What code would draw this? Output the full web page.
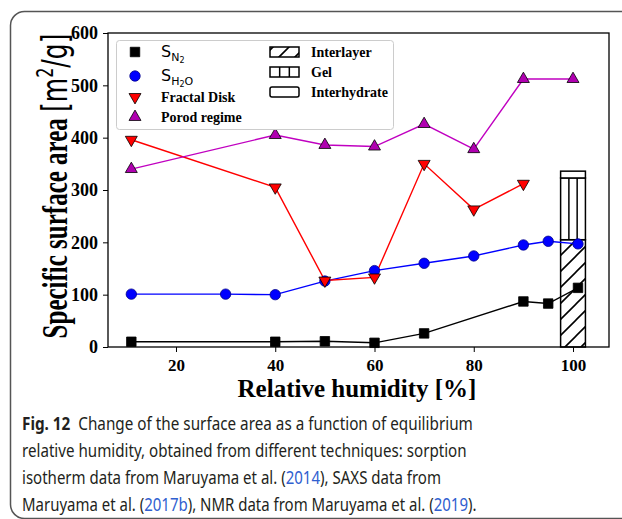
<!DOCTYPE html>
<html>
<head>
<meta charset="utf-8">
<script src="https://cdn.jsdelivr.net/npm/d3@7"></script>
<style>
  body { margin: 0; background: #fff; }
  svg { display: block; }
</style>
</head>
<body>
<div id="chart"></div>
<script>
const xTicks = [20, 40, 60, 80, 100]
const yTicks = [0, 100, 200, 300, 400, 500, 600]

// sorption isotherm (N2, H2O)
const sN2X = [11, 40, 50, 60, 70, 90, 95, 101]
const sN2Y = [10, 10, 11, 8, 26, 87, 83, 113]
const sH2OX = [11, 30, 40, 50, 60, 70, 80, 90, 95, 101]
const sH2OY = [101, 101, 100, 126, 146, 160, 174, 195, 202, 197]

// SAXS
const fractalX = [11, 40, 50, 60, 70, 80, 90]
const fractalY = [396, 305, 127, 133, 350, 263, 312]
const porodX = [11, 40, 50, 60, 70, 80, 90, 100]
const porodY = [340, 405, 386, 383, 426, 378, 512, 512]

// NMR stacked bar
const barX = 100
const barWidth = 5
const barParts = ['Interlayer', 'Gel', 'Interhydrate']
const barValues = [205, 118, 13]

const width = 622
const height = 519
const margin = { top: 33, left: 108, right: 13, bottom: 172 }
const serif = '"Liberation Serif", "Times New Roman", serif'
const sans = '"DejaVu Sans", sans-serif'

const svg = d3
  .select('#chart')
  .append('svg')
  .attr('width', width)
  .attr('height', height)

// outer rounded frame
svg
  .append('rect')
  .attr('x', 10.5)
  .attr('y', 11.5)
  .attr('width', 640)
  .attr('height', 507)
  .attr('rx', 14)
  .attr('fill', 'none')
  .attr('stroke', '#555')
  .attr('stroke-width', 1.5)

const xScale = d3
  .scaleLinear()
  .domain([6.3, 107.25])
  .range([margin.left, width - margin.right])

const yScale = d3
  .scaleLinear()
  .domain([0, 600])
  .range([height - margin.bottom, margin.top])

const defs = svg.append('defs')
const hatch = defs
  .append('pattern')
  .attr('id', 'hatch')
  .attr('patternUnits', 'userSpaceOnUse')
  .attr('width', 16)
  .attr('height', 16)
hatch
  .append('path')
  .attr('d', 'M-4,4 L4,-4 M0,16 L16,0 M12,20 L20,12')
  .attr('stroke', '#000')
  .attr('stroke-width', 1.6)

// axes
const xAxis = d3
  .axisBottom(xScale)
  .tickValues(xTicks)
  .tickSize(5)
  .tickSizeOuter(0)
const yAxis = d3
  .axisLeft(yScale)
  .tickValues(yTicks)
  .tickSize(5)
  .tickSizeOuter(0)

const gx = svg
  .append('g')
  .attr('transform', `translate(0,${yScale(0)})`)
  .call(xAxis)
gx.select('.domain').remove()
gx.selectAll('text')
  .attr('font-family', serif)
  .attr('font-weight', 'bold')
  .attr('font-size', 17)
  .attr('fill', '#000')
  .attr('dy', '0.95em')

const gy = svg
  .append('g')
  .attr('transform', `translate(${xScale.range()[0]},0)`)
  .call(yAxis)
gy.select('.domain').remove()
gy.selectAll('text')
  .attr('font-family', serif)
  .attr('font-weight', 'bold')
  .attr('font-size', 18)
  .attr('fill', '#000')
  .attr('x', -10)

// stacked bar
let base = 0
const barData = barValues.map((v, i) => {
  const d = { part: barParts[i], y0: base, y1: base + v }
  base += v
  return d
})
const barFill = { Interlayer: 'url(#hatch)', Gel: '#fff', Interhydrate: '#fff' }
const bars = svg.append('g')
bars
  .selectAll('rect')
  .data(barData)
  .enter()
  .append('rect')
  .attr('x', xScale(barX - barWidth / 2))
  .attr('width', xScale(barX + barWidth / 2) - xScale(barX - barWidth / 2))
  .attr('y', d => yScale(d.y1))
  .attr('height', d => yScale(d.y0) - yScale(d.y1))
  .attr('fill', d => barFill[d.part])
  .attr('stroke', '#000')
  .attr('stroke-width', 1.5)
const gel = barData[1]
bars
  .selectAll('.gel-line')
  .data([1 / 3, 2 / 3])
  .enter()
  .append('line')
  .attr('x1', f => xScale(barX - barWidth / 2 + barWidth * f))
  .attr('x2', f => xScale(barX - barWidth / 2 + barWidth * f))
  .attr('y1', yScale(gel.y0))
  .attr('y2', yScale(gel.y1))
  .attr('stroke', '#000')
  .attr('stroke-width', 1.5)

// series
const series = [
  { name: 'SN2', xs: sN2X, ys: sN2Y, color: '#000', fill: '#000', symbol: d3.symbolSquare, size: 90, rot: 0 },
  { name: 'SH2O', xs: sH2OX, ys: sH2OY, color: '#0000ff', fill: '#0000ff', symbol: d3.symbolCircle, size: 85, rot: 0 },
  { name: 'Fractal Disk', xs: fractalX, ys: fractalY, color: '#ff0000', fill: '#ff0000', symbol: d3.symbolTriangle, size: 62, rot: 180 },
  { name: 'Porod regime', xs: porodX, ys: porodY, color: '#c000c0', fill: '#b000b0', symbol: d3.symbolTriangle, size: 62, rot: 0 }
]

const line = d3
  .line()
  .x(d => xScale(d[0]))
  .y(d => yScale(d[1]))

series.forEach(s => {
  const pts = s.xs.map((x, i) => [x, s.ys[i]])
  svg
    .append('path')
    .datum(pts)
    .attr('d', line)
    .attr('fill', 'none')
    .attr('stroke', s.color)
    .attr('stroke-width', 1.4)
})

series.forEach(s => {
  const pts = s.xs.map((x, i) => [x, s.ys[i]])
  svg
    .append('g')
    .selectAll('path')
    .data(pts)
    .enter()
    .append('path')
    .attr('d', d3.symbol(s.symbol, s.size))
    .attr('transform', d => `translate(${xScale(d[0])},${yScale(d[1])}) rotate(${s.rot})`)
    .attr('fill', s.fill)
    .attr('stroke', s.name === 'SH2O' ? '#00008b' : '#000')
    .attr('stroke-width', 0.8)
})

// plot frame
svg
  .append('rect')
  .attr('x', xScale.range()[0])
  .attr('y', yScale.range()[1])
  .attr('width', xScale.range()[1] - xScale.range()[0])
  .attr('height', yScale.range()[0] - yScale.range()[1])
  .attr('fill', 'none')
  .attr('stroke', '#000')
  .attr('stroke-width', 1.3)

// legend
const legend = svg.append('g')
legend
  .append('rect')
  .attr('x', 116.5)
  .attr('y', 40.5)
  .attr('width', 277)
  .attr('height', 89)
  .attr('rx', 3)
  .attr('fill', '#fff')
  .attr('stroke', '#ccc')
  .attr('stroke-width', 1)

const rowsY = [52, 76, 97, 117]
series.forEach((s, i) => {
  legend
    .append('path')
    .attr('d', d3.symbol(s.symbol, s.size))
    .attr('transform', `translate(135,${rowsY[i]}) rotate(${s.rot})`)
    .attr('fill', s.fill)
    .attr('stroke', s.name === 'SH2O' ? '#00008b' : '#000')
    .attr('stroke-width', 0.8)
})

function subLabel(y, sub, subsub, tail) {
  const t = legend
    .append('text')
    .attr('x', 161)
    .attr('y', y + 5)
    .attr('font-family', sans)
    .attr('font-size', 16)
    .attr('fill', '#000')
  t.append('tspan').text('S')
  t.append('tspan').attr('dy', 4).attr('font-size', 11).text(sub)
  t.append('tspan').attr('dy', 2).attr('font-size', 8).text(subsub)
  if (tail) t.append('tspan').attr('dy', -2).attr('font-size', 11).text(tail)
}
subLabel(rowsY[0], 'N', '2', null)
subLabel(rowsY[1], 'H', '2', 'O')
;['Fractal Disk', 'Porod regime'].forEach((name, i) => {
  legend
    .append('text')
    .attr('x', 161)
    .attr('y', rowsY[i + 2] + 5)
    .attr('font-family', serif)
    .attr('font-weight', 'bold')
    .attr('font-size', 14)
    .text(name)
})

const rowsY2 = [52, 72, 92]
barParts.forEach((name, i) => {
  legend
    .append('rect')
    .attr('x', 270)
    .attr('y', rowsY2[i] - 5)
    .attr('width', 29)
    .attr('height', 10)
    .attr('rx', name === 'Interhydrate' ? 2 : 0)
    .attr('fill', barFill[name])
    .attr('stroke', '#000')
    .attr('stroke-width', 1.5)
  if (name === 'Gel') {
    ;[1 / 3, 2 / 3].forEach(f => {
      legend
        .append('line')
        .attr('x1', 270 + 29 * f)
        .attr('x2', 270 + 29 * f)
        .attr('y1', rowsY2[i] - 5)
        .attr('y2', rowsY2[i] + 5)
        .attr('stroke', '#000')
        .attr('stroke-width', 1.5)
    })
  }
  legend
    .append('text')
    .attr('x', 311)
    .attr('y', rowsY2[i] + 5)
    .attr('font-family', serif)
    .attr('font-weight', 'bold')
    .attr('font-size', 14)
    .text(name)
})

// axis titles
svg
  .append('text')
  .attr('x', 357)
  .attr('y', 397)
  .attr('text-anchor', 'middle')
  .attr('font-family', serif)
  .attr('font-weight', 'bold')
  .attr('font-size', 25)
  .text('Relative humidity [%]')

const yTitle = svg
  .append('text')
  .attr('transform', 'translate(67,186) rotate(-90) scale(1,1.4)')
  .attr('text-anchor', 'middle')
  .attr('font-size', 25)
yTitle
  .append('tspan')
  .attr('font-family', serif)
  .attr('font-weight', 'bold')
  .text('Specific surface area ')
yTitle.append('tspan').attr('font-family', sans).text('[m')
yTitle
  .append('tspan')
  .attr('font-family', sans)
  .attr('font-size', 16)
  .attr('dy', -10)
  .text('2')
yTitle.append('tspan').attr('font-family', sans).attr('dy', 10).text('/g]')

// caption
const capFont = '"Noto Sans", "Open Sans", sans-serif'
const ink = '#231f20'
const link = '#3060d0'
const captionLines = [
  { w: 451, parts: [['Fig. 12', ink, 'bold'], ['  Change of the surface area as a function of equilibrium', ink]] },
  { w: 445, parts: [['relative humidity, obtained from different techniques: sorption', ink]] },
  { w: 419, parts: [['isotherm data from Maruyama et al. (', ink], ['2014', link], ['), SAXS data from', ink]] },
  { w: 455, parts: [['Maruyama et al. (', ink], ['2017b', link], ['), NMR data from Maruyama et al. (', ink], ['2019', link], [').', ink]] }
]
const captionY = [430, 457, 484, 511]
captionLines.forEach((ln, i) => {
  const t = svg
    .append('text')
    .attr('font-family', capFont)
    .attr('font-size', 18)
    .attr('xml:space', 'preserve')
  ln.parts.forEach(p => {
    t.append('tspan')
      .attr('fill', p[1])
      .attr('font-weight', p[2] || 'normal')
      .text(p[0])
  })
  // squeeze each line to the width it has in the figure
  const natural = t.node().getComputedTextLength()
  t.attr('transform', `translate(22,${captionY[i]}) scale(${ln.w / natural},1)`)
})
</script>
</body>
</html>
